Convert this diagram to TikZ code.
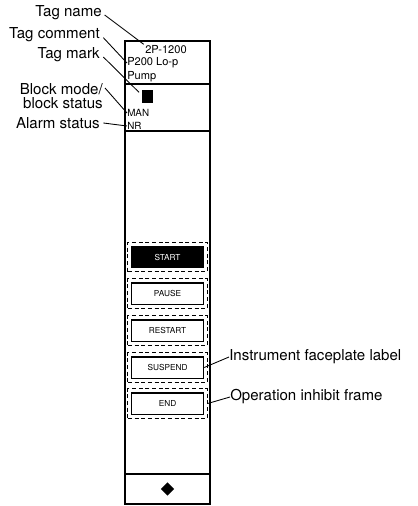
\documentclass[tikz,border=0pt]{standalone}
\usepackage{fontspec}
\setmainfont{TeX Gyre Heros}
\usetikzlibrary{shapes.geometric,positioning}
\tikzset{
  callout/.style={font=\fontsize{11.3}{10.5}\selectfont, inner sep=0pt, align=right},
  panetext/.style={font=\fontsize{8.3}{9}\selectfont, inner sep=0pt, anchor=west},
  smalltext/.style={font=\fontsize{7.4}{8}\selectfont, inner sep=0pt, anchor=west},
  opbutton/.style={rectangle, draw, line width=1pt, minimum width=54pt, minimum height=16pt,
    inner sep=0pt, font=\fontsize{6.2}{7}\selectfont},
  inhibit/.style={rectangle, draw, densely dashed, line width=0.75pt, minimum width=59.5pt,
    minimum height=22pt, inner sep=0pt},
  leader/.style={line width=0.65pt},
}

\begin{document}
\begin{tikzpicture}[x=0.75pt, y=-0.75pt]
\useasboundingbox (0,0) rectangle (417,506);

% Faceplate body
\draw[line width=0.9pt] (125,41) rectangle (210,504);
\draw[line width=0.9pt] (125,84) -- (210,84);
\draw[line width=0.9pt] (125,131) -- (210,131);
\draw[line width=0.9pt] (125,474) -- (210,474);

% Header texts
\node[panetext] (tagnum) at (145,50) {2P-1200};
\node[panetext] (tagcmt) at (127,63) {P200 Lo-p};
\node[panetext] (tagcmt2) at (127,77) {Pump};
\node[rectangle, fill=black, minimum width=8.3pt, minimum height=9.8pt, inner sep=0pt] (tagmark) at (147.5,96.5) {};
\node[smalltext] (mode) at (127,113) {MAN};
\node[smalltext] (alarm) at (127,126) {NR};

% Operation buttons
\node[inhibit] (fstart) at (167.5,257) {};
\node[opbutton, fill=black, text=white] (bstart) at (167.5,257) {START};
\node[inhibit] (fpause) at (167.5,293.5) {};
\node[opbutton] (bpause) at (167.5,293.5) {PAUSE};
\node[inhibit] (frestart) at (167.5,330.5) {};
\node[opbutton] (brestart) at (167.5,330.5) {RESTART};
\node[inhibit] (fsuspend) at (167.5,367.5) {};
\node[opbutton] (bsuspend) at (167.5,367.5) {SUSPEND};
\node[inhibit] (fend) at (167.5,403.5) {};
\node[opbutton] (bend) at (167.5,403.5) {END};

\node[diamond, fill=black, minimum size=10pt, inner sep=0pt] (mark) at (167.5,489) {};

% Callouts on the left
\node[callout, anchor=east] (lbname) at (102,13) {Tag name};
\node[callout, anchor=east] (lbcmt) at (100,35) {Tag comment};
\node[callout, anchor=east] (lbmark) at (100,55) {Tag mark};
\node[callout, anchor=east] (lbmode) at (103,96) {Block mode/\\block status};
\node[callout, anchor=east] (lbalarm) at (100,123) {Alarm status};

\draw[leader] ([xshift=2pt,yshift=-1.5pt]lbname.east) -- ([xshift=-1pt,yshift=1pt]tagnum.north west);
\draw[leader] ([xshift=2.5pt,yshift=-2pt]lbcmt.east) -- (tagcmt.west);
\draw[leader] ([xshift=2.5pt,yshift=-1.5pt]lbmark.east) -- ([xshift=-2pt,yshift=-2pt]tagmark.north west);
\draw[leader] ([xshift=1.5pt,yshift=6pt]lbmode.east) -- (mode.west);
\draw[leader] ([xshift=2.5pt]lbalarm.east) -- (alarm.west);

% Callouts on the right
\node[callout, anchor=west] (lbface) at (229,357) {Instrument faceplate label};
\node[callout, anchor=west] (lbinhibit) at (230,397) {Operation inhibit frame};

\draw[leader] (bsuspend.east) -- (lbface.west);
\draw[leader] (fend.east) -- (lbinhibit.west);

\end{tikzpicture}
\end{document}
